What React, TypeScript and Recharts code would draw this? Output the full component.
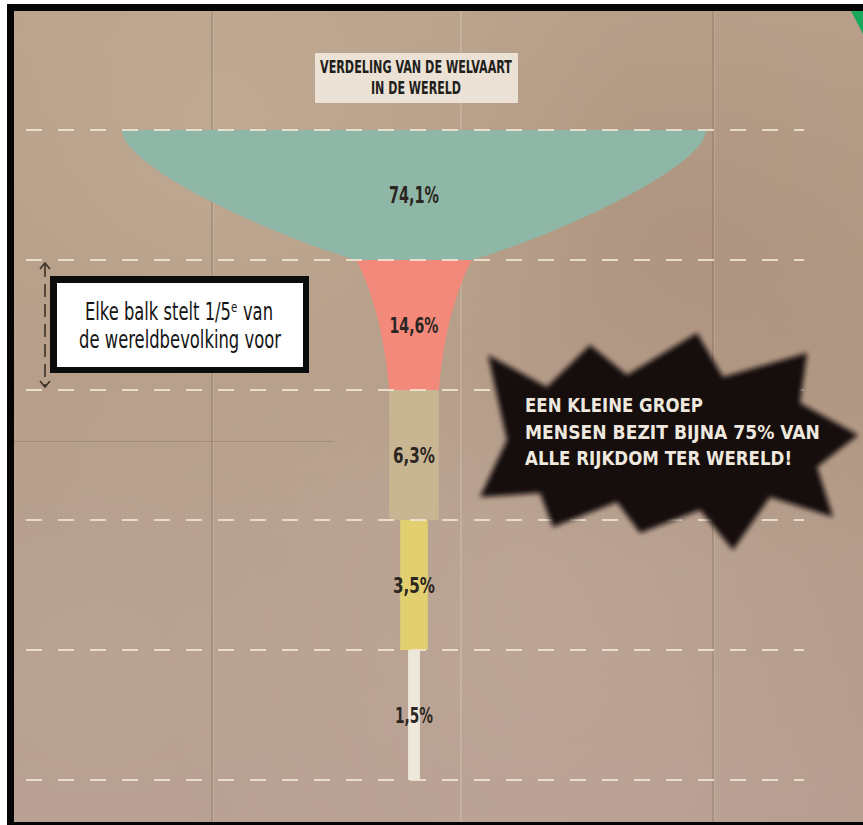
import React from 'react';
import { FunnelChart, Funnel } from 'recharts';

// ---- data ----
const quintiles = ['Rijkste 20%', 'Tweede 20%', 'Middelste 20%', 'Vierde 20%', 'Armste 20%'];
const wealthShare = [74.1, 14.6, 6.3, 3.5, 1.5];
const shareLabels = ['74,1%', '14,6%', '6,3%', '3,5%', '1,5%'];

const titleLines = ['VERDELING VAN DE WELVAART', 'IN DE WERELD'];
const noteLines = ['Elke balk stelt 1/5ᵉ van', 'de wereldbevolking voor'];
const burstLines = ['EEN KLEINE GROEP', 'MENSEN BEZIT BIJNA 75% VAN', 'ALLE RIJKDOM TER WERELD!'];

// ---- styles ----
const bandColors = ['#8fb7a7', '#f2897a', '#c8b592', '#e2cf6f', '#eee8dc'];
const labelLen = [50, 49, 42, 42, 38];
const labelSize = [23, 21, 21, 21, 21];
const DASH = '#f2e7d6';
const COND = '"DejaVu Sans Condensed", "DejaVu Sans", sans-serif';

const funnelData = quintiles.map((q, i) => ({ name: q, value: wealthShare[i], label: shareLabels[i] }));

// text squeezed horizontally so that its natural width matches the target width
const SText = (p: any) => {
  const { x, y, sx, len, anchor, children, ...rest } = p;
  return (
    <text
      transform={`translate(${x},${y}) scale(${sx},1)`}
      x={0}
      y={0}
      textAnchor={anchor || 'start'}
      textLength={len / sx}
      lengthAdjust="spacingAndGlyphs"
      {...rest}
    >
      {children}
    </text>
  );
};

const FunnelBand = (props: any) => {
  const { x, y, upperWidth, lowerWidth, height, name } = props;
  const i = funnelData.findIndex((d) => d.name === name);
  const cx = x + upperWidth / 2;
  const yb = y + height;
  const tl = cx - upperWidth / 2;
  const tr = cx + upperWidth / 2;
  const bl = cx - lowerWidth / 2;
  const br = cx + lowerWidth / 2;
  let d = '';
  if (i === 0) {
    d = `M${tl},${y} L${tr},${y} C${tr},${y + 0.3 * height} ${tr + 0.7 * (br - tr)},${y + 0.85 * height} ${br},${yb} ` +
      `L${bl},${yb} C${tl + 0.7 * (bl - tl)},${y + 0.85 * height} ${tl},${y + 0.3 * height} ${tl},${y} Z`;
  } else if (i === 1) {
    d = `M${tl},${y} L${tr},${y} Q${tr + 0.8 * (br - tr)},${y + 0.4 * height} ${br},${yb} ` +
      `L${bl},${yb} Q${tl + 0.8 * (bl - tl)},${y + 0.4 * height} ${tl},${y} Z`;
  } else {
    d = `M${tl},${y} L${tr},${y} L${tr},${yb} L${tl},${yb} Z`;
  }
  const last = i === funnelData.length - 1;
  const rowMid = y + height / 2;
  return (
    <g>
      <path d={d} fill={bandColors[i]} />
      <line x1={26} x2={804} y1={y} y2={y} stroke={DASH} strokeWidth={2} strokeDasharray="16 16" opacity={0.85} />
      {last && (
        <line x1={26} x2={804} y1={yb} y2={yb} stroke={DASH} strokeWidth={2} strokeDasharray="16 16" opacity={0.85} />
      )}
      <SText
        x={cx}
        y={rowMid + labelSize[i] * 0.36}
        sx={0.7}
        len={labelLen[i]}
        anchor="middle"
        fontFamily={COND}
        fontWeight={700}
        fontSize={labelSize[i]}
        fill="#2b2622"
      >
        {funnelData[i].label}
      </SText>
      {i === 1 && (
        <g>
          {/* arrow: one band = 1/5 of world population */}
          <line x1={45} x2={45} y1={y + 4} y2={yb - 4} stroke="#3a3129" strokeWidth={1.6} strokeDasharray="13 7" />
          <polyline points={`${40},${y + 9} ${45},${y + 3} ${50},${y + 9}`} fill="none" stroke="#3a3129" strokeWidth={1.6} />
          <polyline points={`${40},${yb - 9} ${45},${yb - 3} ${50},${yb - 9}`} fill="none" stroke="#3a3129" strokeWidth={1.6} />
          {/* note box */}
          <rect x={50} y={rowMid - 49} width={259} height={97} fill="#0c0c0c" />
          <rect x={57} y={rowMid - 42} width={246} height={84} fill="#ffffff" />
          <SText x={85} y={rowMid - 5} sx={0.74} len={188} fontFamily={COND} fontSize={25} fill="#151515">
            {noteLines[0]}
          </SText>
          <SText x={79} y={rowMid + 23} sx={0.73} len={202} fontFamily={COND} fontSize={25} fill="#151515">
            {noteLines[1]}
          </SText>
        </g>
      )}
    </g>
  );
};

const burstPoints = [
  [488, 355], [547, 387], [590, 345], [627, 375], [697, 333], [723, 377], [807, 353], [800, 403],
  [858, 435], [817, 467], [833, 517], [770, 497], [733, 550], [700, 510], [640, 533], [617, 502],
  [553, 527], [540, 493], [480, 497], [507, 440],
];

export default function App() {
  return (
    <div style={{ position: 'absolute', left: 0, top: 0, width: 863, height: 825, overflow: 'hidden', background: '#ffffff' }}>
      {/* frame */}
      <div style={{ position: 'absolute', left: 7, top: 4, width: 856, height: 821, background: '#050505' }} />
      {/* paper */}
      <div
        style={{
          position: 'absolute',
          left: 14,
          top: 11,
          width: 849,
          height: 811,
          background:
            'radial-gradient(ellipse at 25% 15%, rgba(200,180,155,0.5), rgba(200,180,155,0) 45%),' +
            'radial-gradient(ellipse at 80% 30%, rgba(165,135,115,0.35), rgba(165,135,115,0) 40%),' +
            'radial-gradient(ellipse at 60% 75%, rgba(198,176,163,0.45), rgba(198,176,163,0) 50%),' +
            'radial-gradient(ellipse at 10% 80%, rgba(192,172,156,0.4), rgba(192,172,156,0) 40%),' +
            'linear-gradient(180deg, #b8a08a 0%, #b29a85 45%, #b69e91 100%)',
        }}
      />
      {/* paper folds */}
      <div style={{ position: 'absolute', left: 211, top: 11, width: 2, height: 811, background: 'rgba(90,68,50,0.18)' }} />
      <div style={{ position: 'absolute', left: 213, top: 11, width: 1, height: 811, background: 'rgba(235,220,200,0.18)' }} />
      <div style={{ position: 'absolute', left: 460, top: 11, width: 2, height: 811, background: 'rgba(235,222,205,0.22)' }} />
      <div style={{ position: 'absolute', left: 712, top: 11, width: 2, height: 811, background: 'rgba(90,68,50,0.18)' }} />
      <div style={{ position: 'absolute', left: 714, top: 11, width: 1, height: 811, background: 'rgba(235,220,200,0.18)' }} />
      <div style={{ position: 'absolute', left: 14, top: 441, width: 320, height: 1, background: 'rgba(70,55,45,0.18)' }} />
      {/* green corner */}
      <svg style={{ position: 'absolute', left: 0, top: 0 }} width={863} height={825}>
        <polygon points="851,11 863,11 863,34" fill="#19a85c" />
      </svg>

      {/* chart */}
      <div style={{ position: 'absolute', left: 0, top: 0 }}>
        <FunnelChart width={863} height={825} margin={{ top: 130, right: 157, bottom: 45, left: 122 }}>
          <Funnel
            data={funnelData}
            dataKey="value"
            nameKey="name"
            lastShapeType="rectangle"
            shape={FunnelBand}
            isAnimationActive={false}
          />
        </FunnelChart>
      </div>

      {/* overlays */}
      <svg style={{ position: 'absolute', left: 0, top: 0, pointerEvents: 'none' }} width={863} height={825}>
        <defs>
          <filter id="spray" x="-10%" y="-10%" width="120%" height="120%">
            <feGaussianBlur stdDeviation="2.6" />
          </filter>
        </defs>
        {/* title */}
        <rect x={315} y={53} width={203} height={50} fill="#efe6da" opacity={0.93} />
        <SText x={320} y={73} sx={0.67} len={192} fontFamily={COND} fontWeight={700} fontSize={18} fill="#221e1b">
          {titleLines[0]}
        </SText>
        <SText x={371} y={94} sx={0.67} len={90} fontFamily={COND} fontWeight={700} fontSize={18} fill="#221e1b">
          {titleLines[1]}
        </SText>
        {/* starburst */}
        <polygon points={burstPoints.map((p) => p.join(',')).join(' ')} fill="#161110" filter="url(#spray)" />
        {burstLines.map((t, k) => (
          <SText
            key={k}
            x={525}
            y={412 + k * 26.5}
            sx={1}
            len={[178, 295, 267][k]}
            fontFamily={COND}
            fontWeight={700}
            fontSize={19}
            fill="#eee8de"
          >
            {t}
          </SText>
        ))}
      </svg>
    </div>
  );
}
